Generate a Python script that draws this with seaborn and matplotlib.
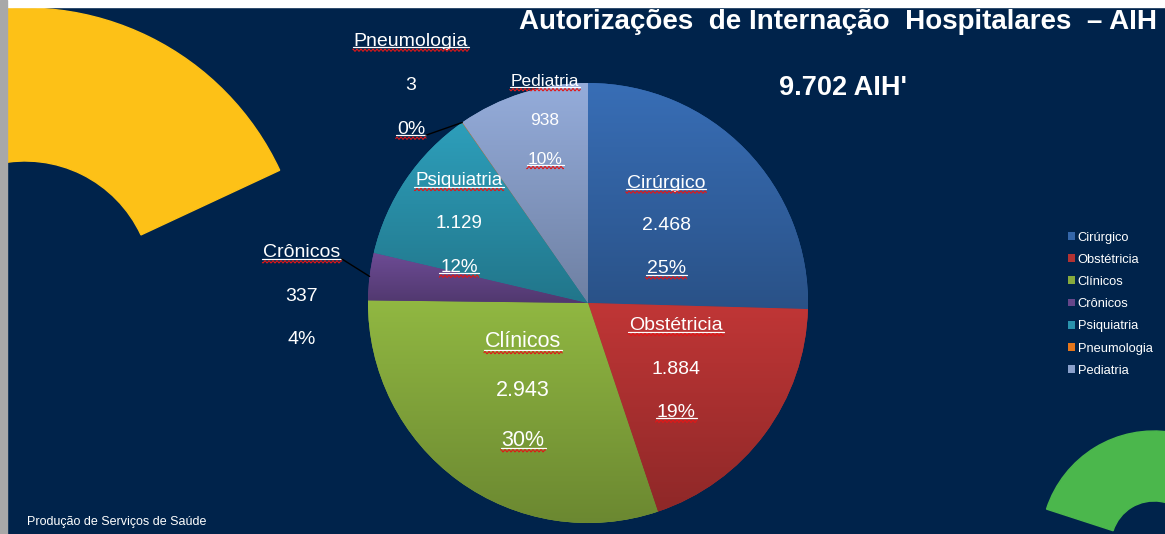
import numpy as np
import matplotlib
matplotlib.use("Agg")
import matplotlib.pyplot as plt
from matplotlib.patches import Wedge, Rectangle
from matplotlib import colors as mcolors
import seaborn as sns

# data
categories = ['Cirúrgico', 'Obstétricia', 'Clínicos', 'Crônicos', 'Psiquiatria', 'Pneumologia', 'Pediatria']
admissions = [2468, 1884, 2943, 337, 1129, 3, 938]
percent_labels = [25, 19, 30, 4, 12, 0, 10]
slice_colors = ['#3466a9', '#b23232', '#86aa3d', '#65468a', '#2a93ad', '#e5761b', '#8aa0cb']

title_text = 'Autorizações  de Internação  Hospitalares  – AIH'
footer_text = 'Produção de Serviços de Saúde'

# label layout (pie units), font sizes, gap between the three lines
label_pos = [(0.355, 0.35), (0.40, -0.30), (-0.295, -0.40), (-1.30, 0.03),
             (-0.586, 0.36), (-0.805, 0.99), (-0.195, 0.83)]
label_size = [14, 14, 15.5, 14, 13.5, 14, 12.5]
line_gap = [0.195, 0.197, 0.223, 0.198, 0.197, 0.2, 0.177]
pct_underlined = [True, True, True, False, True, True, True]
leaders = {3: 'name', 5: 'pct'}

W, H = 1165, 534
NAVY = '#00234b'

sns.set_theme(style='white')
plt.rcParams['font.family'] = ['Liberation Sans', 'DejaVu Sans']


def br_number(v):
    return f'{v:,}'.replace(',', '.')


fig = plt.figure(figsize=(W / 100, H / 100), dpi=100)
fig.patch.set_facecolor('white')

# background shapes in pixel units
bg = fig.add_axes([0, 0, 1, 1])
bg.set_xlim(0, W)
bg.set_ylim(0, H)
bg.axis('off')
bg.add_patch(Rectangle((0, 0), W, H, color=NAVY))
bg.add_patch(Wedge((25, 245), 281, 25, 180, width=153, color='#fdc117'))
bg.add_patch(Wedge((1154, -10), 113, 0, 162, width=70, color='#4bb74c'))
bg.add_patch(Rectangle((0, H - 7), W, 7, color='white'))
bg.add_patch(Rectangle((0, 0), 7, H, color='#a8a8a8'))

# pie
cx, cy, r = 588, H - 303, 220
pax = fig.add_axes([(cx - r) / W, (cy - r) / H, 2 * r / W, 2 * r / H])
pax.patch.set_alpha(0)
palette = sns.color_palette(slice_colors)
wedges, _ = pax.pie(admissions, colors=palette, startangle=90, counterclock=False,
                    radius=1, wedgeprops=dict(linewidth=0))

# soft vertical shading inside each slice
grad = np.linspace(1, 0, 256)[:, None, None]
for w, c in zip(wedges, slice_colors):
    base = np.array(mcolors.to_rgb(c))
    top = np.clip(base * 1.08, 0, 1)
    bottom = base * 0.80
    ang = np.radians(np.linspace(w.theta1, w.theta2, 60))
    xs = np.concatenate([np.cos(ang), [0]])
    ys = np.concatenate([np.sin(ang), [0]])
    img = top * grad + bottom * (1 - grad)
    im = pax.imshow(img, extent=(xs.min(), xs.max(), ys.min(), ys.max()),
                    origin='upper', aspect='auto', zorder=w.get_zorder() + 0.1)
    im.set_clip_path(w)

pax.set_xlim(-1, 1)
pax.set_ylim(-1, 1)
pax.axis('off')

# data labels: name / value / percent
label_texts = []
for i, cat in enumerate(categories):
    x, y = label_pos[i]
    g = line_gap[i]
    kw = dict(color='white', ha='center', va='center', fontsize=label_size[i], zorder=10)
    t_name = pax.text(x, y + g, cat, **kw)
    t_val = pax.text(x, y, br_number(admissions[i]), **kw)
    t_pct = pax.text(x, y - g, f'{percent_labels[i]}%', **kw)
    label_texts.append((t_name, t_val, t_pct))

# titles
fig.text(1157 / W, 1 - 22 / H, title_text, ha='right', va='center', fontsize=20,
         fontweight='bold', color='white')
fig.text(843 / W, 1 - 88 / H, f"{br_number(sum(admissions))} AIH'", ha='center', va='center',
         fontsize=19.5, fontweight='bold', color='white')
fig.text(27 / W, 1 - 522 / H, footer_text, ha='left', va='center', fontsize=9, color='white')

# legend
fig.legend(handles=wedges, labels=categories, loc='upper left',
           bbox_to_anchor=(1068 / W, 1 - 231.5 / H), frameon=False, fontsize=9.3,
           labelcolor='white', handlelength=0.55, handleheight=0.55, handletextpad=0.2,
           labelspacing=0.79, borderpad=0, borderaxespad=0)

# underlines, spell-check squiggles and leader lines on an overlay
fig.canvas.draw()
renderer = fig.canvas.get_renderer()
top_ax = fig.add_axes([0, 0, 1, 1], zorder=20)
top_ax.set_xlim(0, W)
top_ax.set_ylim(0, H)
top_ax.axis('off')
top_ax.patch.set_alpha(0)


def underline(t, size):
    bb = t.get_window_extent(renderer)
    em = size * 100 / 72
    base = bb.y0 + 0.2 * em
    yu = base - 0.07 * em
    top_ax.plot([bb.x0 - 1, bb.x1 + 1], [yu, yu], color='white', lw=0.9)
    xs = np.linspace(bb.x0 - 1, bb.x1 + 1, 200)
    top_ax.plot(xs, yu - 3 + 1.1 * np.sin(xs * 2 * np.pi / 4), color='#e01818', lw=0.8)
    return bb, yu


for i, (t_name, t_val, t_pct) in enumerate(label_texts):
    bb_n, yn = underline(t_name, label_size[i])
    if pct_underlined[i]:
        bb_p, yp = underline(t_pct, label_size[i])
    else:
        bb_p, yp = t_pct.get_window_extent(renderer), None
    if i in leaders:
        w = wedges[i]
        mid = np.radians((w.theta1 + w.theta2) / 2)
        ex, ey = pax.transData.transform((np.cos(mid), np.sin(mid)))
        if leaders[i] == 'name':
            sx, sy = bb_n.x1 + 1, yn
        else:
            sx, sy = bb_p.x1 + 1, yp
        top_ax.plot([sx, ex], [sy, ey], color='black', lw=1)

fig.savefig('out.png', dpi=100, facecolor=fig.get_facecolor())
